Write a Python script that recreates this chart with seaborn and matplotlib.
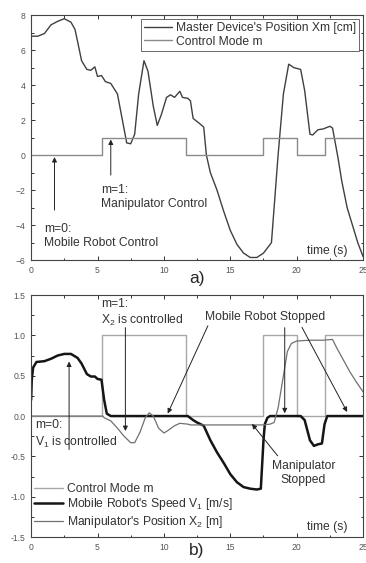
import numpy as np
import pandas as pd
import matplotlib
matplotlib.use('Agg')
import matplotlib.pyplot as plt
from matplotlib.ticker import MultipleLocator
import seaborn as sns

# master device position Xm [cm]
t_xm = [0, 0.5, 1, 1.5, 2, 2.5, 3, 3.3, 3.5, 3.8, 4.2, 4.5, 4.8, 5, 5.3, 5.6, 6, 6.5,
        7, 7.2, 7.5, 7.8, 8.1, 8.5, 8.8, 9.2, 9.5, 9.8, 10.2, 10.5, 10.8, 11.2, 11.4,
        11.8, 12, 12.2, 12.7, 13, 13.2, 13.5, 14, 14.5, 15, 15.5, 16, 16.5, 17, 17.5,
        17.8, 18.1, 18.3, 18.6, 19, 19.4, 19.8, 20.3, 20.6, 21, 21.2, 21.6, 22, 22.5,
        22.7, 23.1, 23.4, 23.8, 24.2, 24.6, 25]
xm = [6.8, 6.8, 6.95, 7.45, 7.65, 7.8, 7.6, 7.2, 6.5, 5.4, 4.9, 4.85, 5.05, 4.5, 4.55,
      4.2, 4.1, 3.5, 1.5, 0.7, 0.65, 1.2, 3.5, 5.4, 4.8, 2.8, 1.7, 2.3, 3.3, 3.45, 3.3,
      3.65, 3.3, 3.25, 3.1, 2.1, 1.8, 1.6, 0.0, -1.0, -2.0, -3.2, -4.3, -5.1, -5.6,
      -5.85, -5.85, -5.6, -5.3, -5.0, -3.0, 0.0, 3.5, 5.2, 5.0, 4.9, 3.7, 1.2, 1.15,
      1.45, 1.5, 1.65, 1.55, -0.1, -1.5, -3.0, -4.0, -5.0, -5.8]

# control mode m
t_mode = [0, 5.35, 11.7, 17.5, 20.0, 22.1, 25]
mode = [0, 1, 0, 1, 0, 1, 1]

# mobile robot speed V1 [m/s]
t_v1 = [0, 0.05, 0.15, 0.4, 1, 1.5, 2, 2.5, 3, 3.5, 3.8, 4.2, 4.5, 4.8, 5, 5.3, 5.5,
        5.7, 6, 11.8, 12.2, 12.5, 13, 13.5, 14, 14.5, 15, 15.5, 16, 16.5, 17, 17.3,
        17.5, 17.6, 17.8, 18, 20.3, 20.6, 21, 21.3, 21.6, 21.9, 22.1, 22.3, 25]
v1 = [0.2, 0.45, 0.6, 0.67, 0.68, 0.71, 0.75, 0.77, 0.77, 0.72, 0.65, 0.52, 0.49, 0.49,
      0.46, 0.45, 0.2, 0.03, 0.0, 0.0, -0.05, -0.08, -0.12, -0.3, -0.45, -0.58, -0.72,
      -0.82, -0.88, -0.9, -0.91, -0.9, -0.3, -0.1, -0.02, 0.0, 0.0, -0.05, -0.3, -0.37,
      -0.35, -0.34, -0.1, 0.0, 0.0]

# manipulator position X2 [m]
t_x2 = [0, 5.4, 5.5, 6, 6.5, 7, 7.5, 7.8, 8.2, 8.6, 8.9, 9.2, 9.6, 10, 10.3, 10.8,
        11.2, 11.8, 12, 17.5, 18, 18.3, 18.6, 19, 19.3, 19.6, 20, 21, 22, 22.7, 23,
        23.5, 24, 24.5, 25]
x2 = [0, 0, -0.02, -0.06, -0.15, -0.25, -0.33, -0.33, -0.2, -0.02, 0.04, 0.0, -0.15,
      -0.21, -0.18, -0.12, -0.09, -0.1, -0.11, -0.11, -0.1, -0.08, 0.1, 0.5, 0.8, 0.9,
      0.93, 0.94, 0.94, 0.95, 0.85, 0.7, 0.55, 0.42, 0.3]

sns.set_style('ticks')
plt.rcParams['font.family'] = ['Liberation Sans', 'DejaVu Sans']
plt.rcParams['mathtext.fontset'] = 'custom'
plt.rcParams['mathtext.rm'] = 'Liberation Sans'
plt.rcParams['mathtext.it'] = 'Liberation Sans'

fig = plt.figure(figsize=(3.66, 5.63), dpi=100)
ax1 = fig.add_axes([0.085, 0.538, 0.907, 0.435])
ax2 = fig.add_axes([0.085, 0.046, 0.907, 0.43])

fs = 8.7
tc = '#333333'
arrow = dict(arrowstyle='-|>', color='#222222', lw=0.7, mutation_scale=7)

# panel a)
sns.lineplot(x=t_xm, y=xm, ax=ax1, color='#404040', lw=1.0,
             label="Master Device's Position Xm [cm]")
sns.lineplot(x=t_mode, y=mode, ax=ax1, color='#8a8a8a', lw=1.0,
             drawstyle='steps-post', label='Control Mode m')
ax1.set_xlim(0, 25)
ax1.set_ylim(-6, 8)
ax1.yaxis.set_major_locator(MultipleLocator(2))
ax1.yaxis.set_minor_locator(MultipleLocator(1))
leg1 = ax1.legend(loc='upper right', fontsize=fs, frameon=True, fancybox=False,
                  handlelength=2.3, handletextpad=0.3, borderpad=0.25,
                  labelspacing=0.1, borderaxespad=0.35)
leg1.get_frame().set_edgecolor('#444444')
leg1.get_frame().set_linewidth(0.7)
for t in leg1.get_texts():
    t.set_color(tc)
ax1.annotate('', xy=(1.76, 0.05), xytext=(1.76, -3.3), arrowprops=arrow)
ax1.text(1.0, -4.6, 'm=0:\nMobile Robot Control', fontsize=fs, va='center',
         linespacing=1.2, color=tc)
ax1.annotate('', xy=(6.0, 1.05), xytext=(6.0, -1.3), arrowprops=arrow)
ax1.text(5.3, -2.38, 'm=1:\nManipulator Control', fontsize=fs, va='center',
         linespacing=1.2, color=tc)
ax1.text(20.8, -5.5, 'time (s)', fontsize=fs, va='center', color=tc)
ax1.text(0.5, -0.075, 'a)', transform=ax1.transAxes, fontsize=12.5, ha='center',
         va='center')

# panel b)
sns.lineplot(x=t_mode, y=mode, ax=ax2, color='#a8a8a8', lw=1.0,
             drawstyle='steps-post', label='Control Mode m')
sns.lineplot(x=t_v1, y=v1, ax=ax2, color='#151515', lw=1.8,
             label="Mobile Robot's Speed V$_1$ [m/s]")
sns.lineplot(x=t_x2, y=x2, ax=ax2, color='#707070', lw=0.9,
             label="Manipulator's Position X$_2$ [m]")
ax2.set_xlim(0, 25)
ax2.set_ylim(-1.5, 1.5)
ax2.yaxis.set_major_locator(MultipleLocator(0.5))
ax2.yaxis.set_minor_locator(MultipleLocator(0.25))
ax2.yaxis.set_major_formatter(plt.FormatStrFormatter('%.1f'))
leg2 = ax2.legend(loc='lower left', fontsize=fs, frameon=False, handlelength=2.4,
                  handletextpad=0.3, labelspacing=0.12, borderaxespad=0.0,
                  bbox_to_anchor=(-0.005, 0.01))
for t in leg2.get_texts():
    t.set_color(tc)
ax2.text(5.3, 1.28, 'm=1:\nX$_2$ is controlled', fontsize=fs, va='center',
         linespacing=1.3, color=tc)
ax2.annotate('', xy=(7.1, -0.22), xytext=(7.1, 1.13), arrowprops=arrow)
ax2.text(17.6, 1.23, 'Mobile Robot Stopped', fontsize=fs, ha='center', va='center',
         color=tc)
ax2.annotate('', xy=(10.2, 0.0), xytext=(13.4, 1.15), arrowprops=arrow)
ax2.annotate('', xy=(19.1, 0.0), xytext=(19.1, 1.13), arrowprops=arrow)
ax2.annotate('', xy=(23.9, 0.02), xytext=(20.3, 1.13), arrowprops=arrow)
ax2.text(20.5, -0.71, 'Manipulator\nStopped', fontsize=fs, ha='center', va='center',
         linespacing=1.2, color=tc)
ax2.annotate('', xy=(16.5, -0.07), xytext=(18.7, -0.52), arrowprops=arrow)
ax2.text(0.3, -0.23, 'm=0:\nV$_1$ is controlled', fontsize=fs, va='center',
         linespacing=1.3, color=tc)
ax2.annotate('', xy=(2.86, 0.71), xytext=(2.86, -0.45), arrowprops=arrow)
ax2.text(20.8, -1.37, 'time (s)', fontsize=fs, va='center', color=tc)
ax2.text(0.5, -0.055, 'b)', transform=ax2.transAxes, fontsize=12.5, ha='center',
         va='center')

for ax in (ax1, ax2):
    ax.xaxis.set_major_locator(MultipleLocator(5))
    ax.xaxis.set_minor_locator(MultipleLocator(2.5))
    ax.tick_params(which='both', direction='in', top=True, right=True,
                   labelsize=6.2, colors='#333333', labelcolor='#555555', width=0.7)
    ax.tick_params(which='major', length=3, pad=4)
    ax.tick_params(which='minor', length=1.8)
    for s in ax.spines.values():
        s.set_color('#444444')
        s.set_linewidth(0.8)
        s.set_visible(True)
    ax.set_xlabel('')
    ax.set_ylabel('')

fig.savefig('out.png', dpi=100)
